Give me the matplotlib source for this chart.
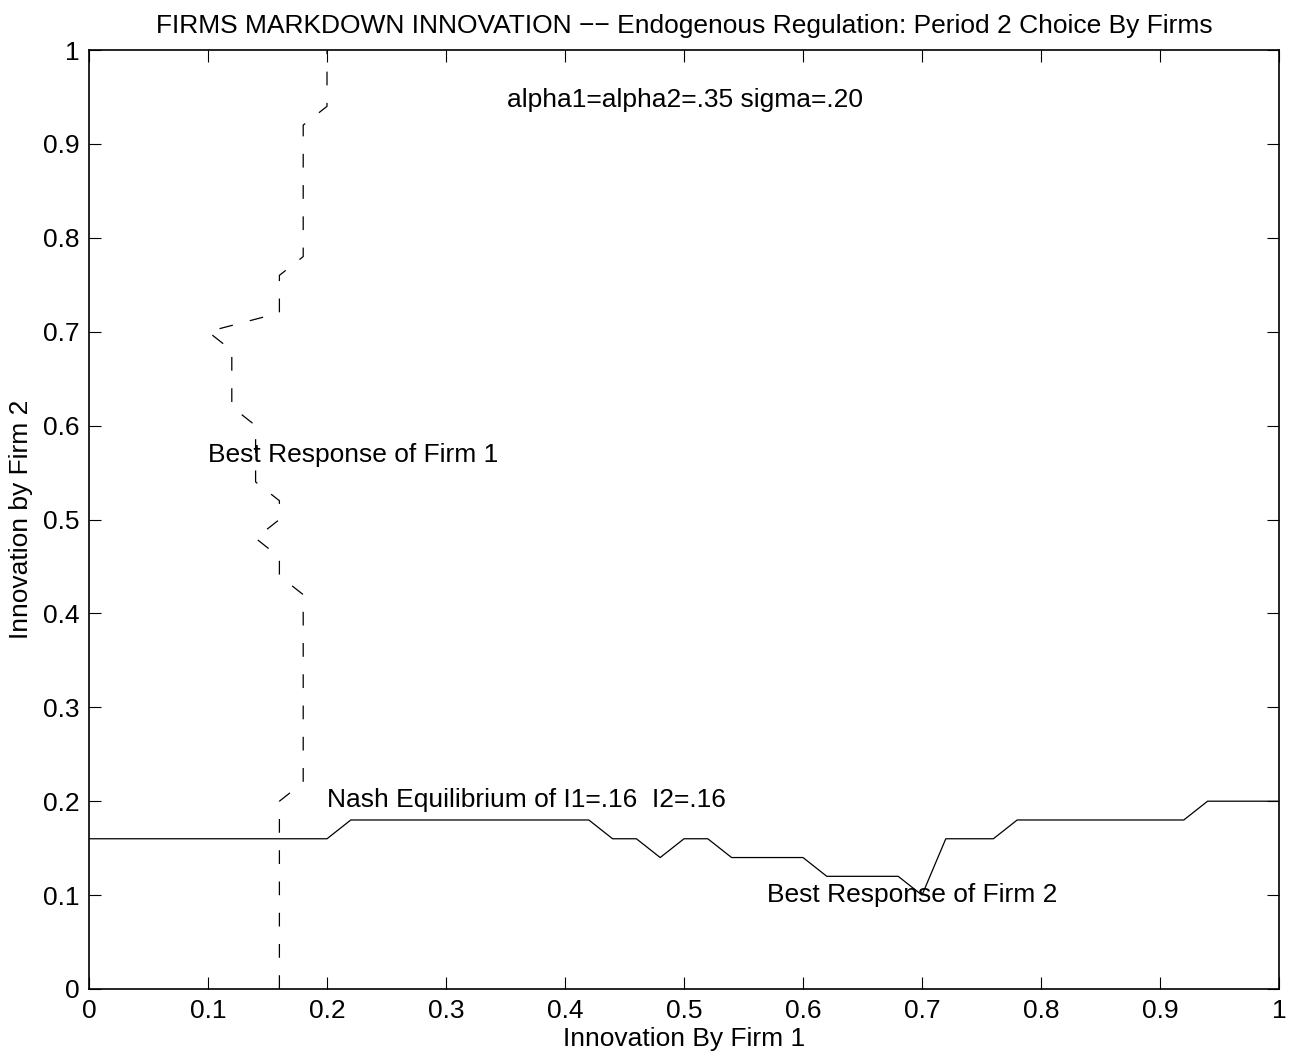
import numpy as np
import matplotlib
matplotlib.use('Agg')
import matplotlib.pyplot as plt

plt.rcParams['font.family'] = ['Liberation Sans', 'DejaVu Sans']

# Best response of firm 2: I2 as a function of I1
br2_x = [0.00, 0.20, 0.22, 0.42, 0.44, 0.46, 0.48, 0.50, 0.52, 0.54, 0.60,
         0.62, 0.68, 0.70, 0.72, 0.76, 0.78, 0.92, 0.94, 1.00]
br2_y = [0.16, 0.16, 0.18, 0.18, 0.16, 0.16, 0.14, 0.16, 0.16, 0.14, 0.14,
         0.12, 0.12, 0.10, 0.16, 0.16, 0.18, 0.18, 0.20, 0.20]

# Best response of firm 1: I1 as a function of I2
br1_y = [0.00, 0.20, 0.22, 0.42, 0.44, 0.46, 0.48, 0.50, 0.52, 0.54, 0.60,
         0.62, 0.68, 0.70, 0.72, 0.76, 0.78, 0.92, 0.94, 1.00]
br1_x = [0.16, 0.16, 0.18, 0.18, 0.16, 0.16, 0.14, 0.16, 0.16, 0.14, 0.14,
         0.12, 0.12, 0.10, 0.16, 0.16, 0.18, 0.18, 0.20, 0.20]

ticks = np.round(np.arange(0, 1.01, 0.1), 1)
tick_labels = ['0', '0.1', '0.2', '0.3', '0.4', '0.5', '0.6', '0.7', '0.8', '0.9', '1']

fs = 19

fig = plt.figure(figsize=(12.99, 10.64), dpi=100)
ax = fig.add_axes([89 / 1299, 1 - 989 / 1064, 1190 / 1299, 939 / 1064])

ax.plot(br2_x, br2_y, color='black', linewidth=0.9)
line1, = ax.plot(br1_x, br1_y, color='black', linewidth=0.9)
line1.set_dashes((11, 14))

ax.set_xlim(0, 1)
ax.set_ylim(0, 1)
ax.set_xticks(ticks)
ax.set_xticklabels(tick_labels)
ax.set_yticks(ticks)
ax.set_yticklabels(tick_labels)
ax.tick_params(direction='in', length=8.5, width=0.8, labelsize=fs,
               top=True, right=True, pad=7)
for s in ax.spines.values():
    s.set_linewidth(1.2)

ax.text(0.351, 0.947, 'alpha1=alpha2=.35 sigma=.20', fontsize=fs, va='center')
ax.text(0.10, 0.569, 'Best Response of Firm 1', fontsize=fs, va='center')
ax.text(0.20, 0.201, 'Nash Equilibrium of I1=.16  I2=.16', fontsize=fs, va='center')
ax.text(0.57, 0.10, 'Best Response of Firm 2', fontsize=fs, va='center')

ax.set_title('FIRMS MARKDOWN INNOVATION \u2212\u2212 Endogenous Regulation: Period 2 Choice By Firms',
             fontsize=fs, pad=12)
ax.set_xlabel('Innovation By Firm 1', fontsize=fs, labelpad=3)
ax.set_ylabel('Innovation by Firm 2', fontsize=fs, labelpad=7)

fig.savefig('out.png', dpi=100)
